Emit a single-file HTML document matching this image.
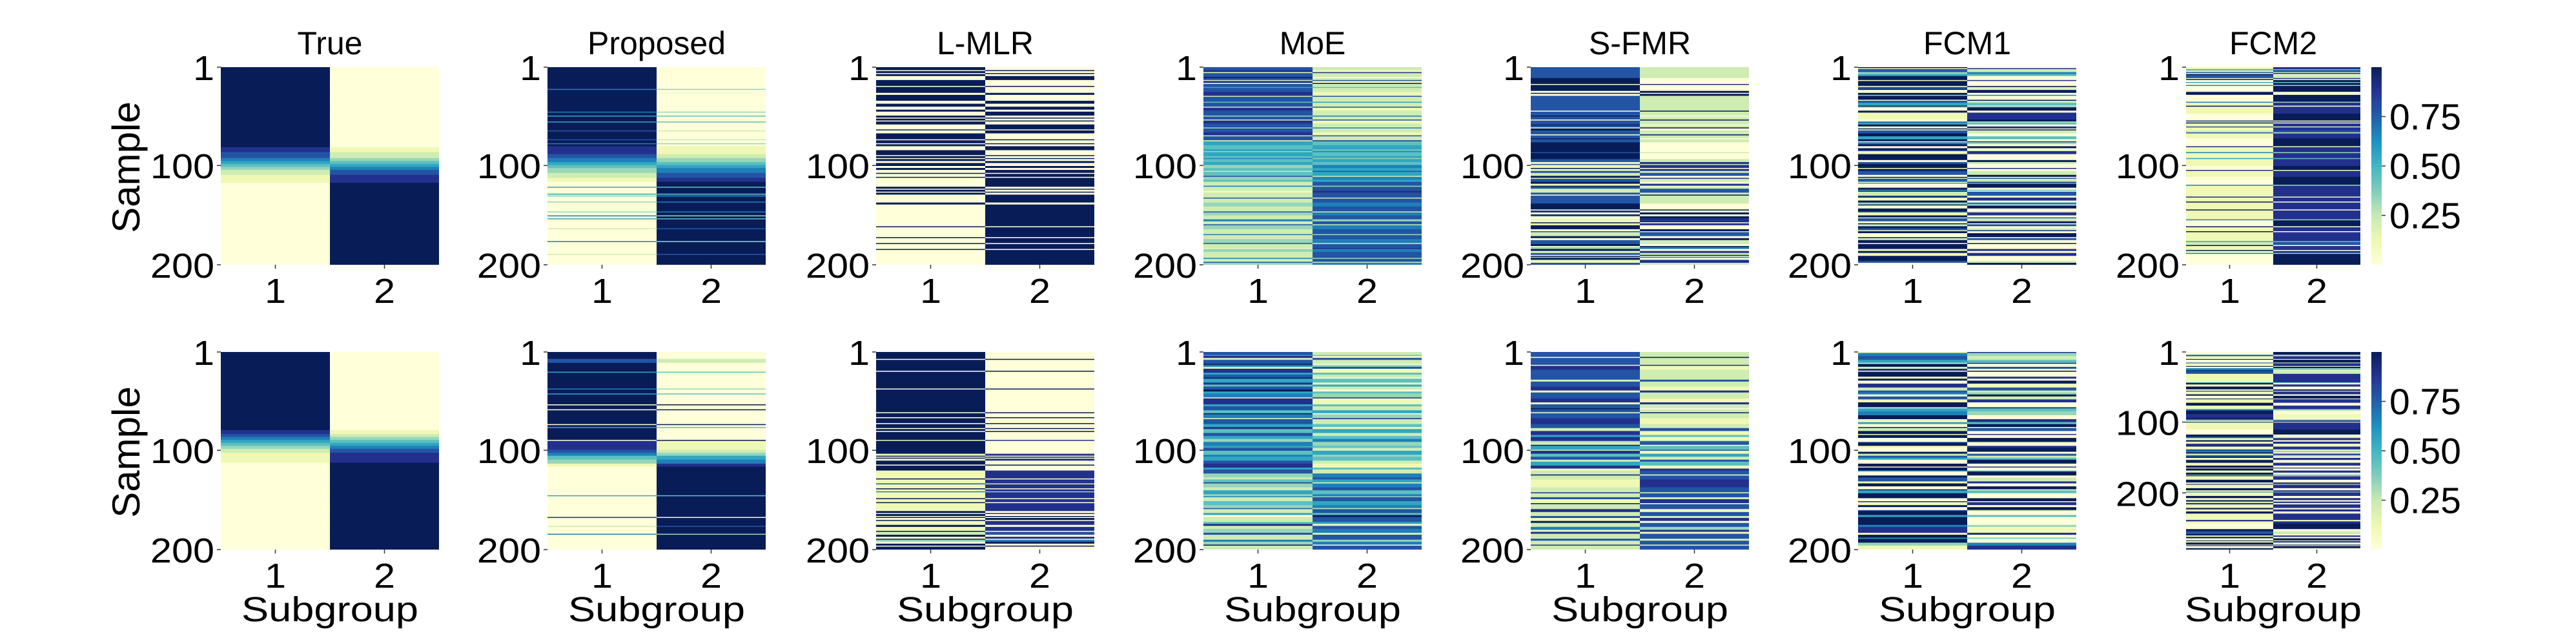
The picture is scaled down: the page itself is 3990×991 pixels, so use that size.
<!DOCTYPE html>
<html>
<head>
<meta charset="utf-8">
<style>
  html,body{margin:0;padding:0;background:#fff;}
  svg{display:block;}
  text{font-family:"Liberation Sans","DejaVu Sans",sans-serif;fill:#000;}
</style>
</head>
<body>
<svg id="fig" width="3990" height="991" viewBox="0 0 3990 991" xmlns="http://www.w3.org/2000/svg">
  <defs>
    <linearGradient id="cbgrad" x1="0" y1="1" x2="0" y2="0">
      <stop offset="0" stop-color="#ffffd9"/>
      <stop offset="0.125" stop-color="#edf8b1"/>
      <stop offset="0.25" stop-color="#c7e9b4"/>
      <stop offset="0.375" stop-color="#7fcdbb"/>
      <stop offset="0.5" stop-color="#41b6c4"/>
      <stop offset="0.625" stop-color="#1d91c0"/>
      <stop offset="0.75" stop-color="#225ea8"/>
      <stop offset="0.875" stop-color="#253494"/>
      <stop offset="1" stop-color="#081d58"/>
    </linearGradient>
  </defs>
</svg>
<script>
// ---- data: run-length encoded membership probability of subgroup 1 (digit/9), per panel ----
const panelTitles = ['True','Proposed','L-MLR','MoE','S-FMR','FCM1','FCM2'];
const subgroupLabels = ['1','2'];
const yTickLabels = ['1','100','200'];
const yTickIndex = [0, 99, 199];
const cbTickValues = [0.25, 0.5, 0.75];
const cbTickLabels = ['0.25','0.50','0.75'];
const rowCountsTop = [200,200,200,200,200,200,200];
const rowCountsBot = [200,200,200,200,200,200,280];

const trueTop = [[9,81],[8,5],[7,6],[6,3],[5,3],[4,3],[3,3],[2,5],[1,8],[0,83]];
const trueBot = [[9,79],[8,4],[7,3],[6,3],[5,3],[4,3],[3,3],[2,4],[1,10],[0,88]];
const propTop = [[9,22],[6,1],[9,21],[6,1],[9,3],[5,1],[9,5],[5,1],[9,8],[7,1],[9,8],[7,1],[9,3],[6,1],[9,2],[8,8],[7,4],[6,4],[5,3],[4,2],[3,5],[2,5],[1,4],[0,5],[5,1],[0,6],[5,1],[1,1],[3,1],[0,5],[3,1],[0,9],[3,1],[0,3],[6,1],[0,2],[5,1],[0,9],[2,1],[0,11],[6,1],[0,12],[2,1],[0,10]];
const propBot = [[9,7],[7,4],[9,10],[5,1],[9,16],[6,1],[9,4],[5,1],[9,10],[0,1],[9,4],[0,1],[9,15],[0,1],[9,2],[5,1],[9,12],[0,1],[8,9],[7,4],[6,3],[4,4],[3,4],[1,3],[0,30],[5,1],[0,21],[8,1],[0,8],[2,1],[0,8],[6,1],[0,15]];
const lmlrTop = [[9,3],[0,1],[9,2],[0,1],[9,2],[0,4],[9,6],[0,1],[9,6],[0,2],[9,6],[0,3],[9,3],[0,3],[9,2],[0,4],[9,2],[0,1],[9,2],[0,1],[9,3],[0,5],[9,1],[0,3],[9,6],[0,1],[9,3],[0,1],[9,2],[0,4],[9,5],[0,1],[9,2],[0,1],[9,2],[0,2],[9,3],[0,2],[9,2],[0,3],[9,1],[0,3],[9,1],[0,9],[9,2],[0,1],[9,2],[0,1],[9,2],[0,8],[9,2],[0,22],[9,1],[0,10],[9,1],[0,5],[9,1],[0,5],[9,1],[0,15]];
const lmlrBot = [[9,7],[0,1],[9,10],[0,1],[9,16],[0,1],[9,22],[0,1],[9,3],[0,1],[9,5],[0,1],[9,4],[0,1],[9,2],[0,1],[9,7],[1,1],[9,12],[1,2],[9,1],[0,1],[9,1],[1,2],[9,4],[0,1],[9,4],[1,8],[9,1],[1,4],[7,1],[1,3],[9,1],[1,2],[6,1],[1,6],[9,1],[1,3],[9,1],[1,7],[9,2],[1,1],[9,2],[0,1],[9,1],[0,2],[9,1],[1,3],[9,2],[1,4],[9,1],[2,3],[9,2],[1,2],[9,1],[3,1],[0,2],[9,2],[0,1],[9,3]];
const moeTop = [[7,3],[8,2],[1,1],[7,3],[9,1],[7,2],[2,1],[8,2],[0,1],[7,3],[5,1],[7,4],[8,3],[2,1],[7,5],[4,1],[7,4],[2,1],[8,3],[7,4],[3,1],[7,3],[2,1],[8,3],[7,4],[3,1],[7,3],[8,3],[2,1],[7,4],[1,1],[5,4],[4,3],[5,2],[3,1],[5,4],[4,2],[6,1],[4,3],[5,3],[3,2],[4,3],[2,1],[4,4],[7,1],[3,3],[4,2],[2,3],[6,1],[2,4],[1,2],[2,5],[7,1],[2,3],[3,4],[2,5],[7,1],[3,3],[2,4],[6,1],[2,3],[7,1],[3,4],[2,5],[6,1],[2,3],[3,4],[7,1],[2,4],[1,1],[3,3],[2,5],[6,1],[2,3],[7,1],[3,2]];
const moeBot = [[7,2],[5,1],[8,2],[2,1],[7,3],[9,1],[6,2],[2,1],[8,3],[5,2],[7,2],[9,1],[5,3],[8,2],[4,1],[7,3],[9,1],[5,2],[6,3],[1,1],[8,4],[5,2],[7,3],[4,2],[9,1],[6,3],[1,1],[7,4],[5,2],[8,2],[4,3],[7,2],[5,3],[3,2],[6,3],[5,2],[7,2],[4,3],[6,2],[5,3],[7,2],[8,3],[5,2],[7,3],[3,3],[2,2],[4,2],[8,1],[3,3],[2,2],[5,3],[3,2],[6,1],[2,3],[4,3],[3,2],[7,1],[2,3],[5,2],[0,1],[2,4],[4,2],[8,1],[2,3],[3,3],[7,1],[2,4],[6,2],[3,2],[9,1],[2,3]];
const sfmrTop = [[7,10],[9,5],[1,1],[9,5],[0,2],[9,1],[0,2],[7,13],[0,1],[7,3],[9,1],[7,3],[0,1],[7,3],[9,1],[7,2],[0,1],[9,2],[7,3],[0,1],[7,3],[9,1],[7,2],[9,9],[7,1],[9,5],[7,3],[1,2],[7,1],[1,2],[9,1],[1,2],[7,2],[2,2],[9,2],[1,1],[7,3],[9,1],[1,2],[9,1],[7,2],[2,3],[7,2],[0,1],[7,7],[9,5],[0,1],[7,1],[9,1],[0,2],[9,1],[7,1],[0,1],[1,4],[9,1],[1,2],[9,3],[0,2],[7,1],[2,3],[9,2],[0,2],[7,3],[9,2],[0,1],[3,2],[9,2],[1,1],[7,2],[0,1],[9,1],[3,1],[9,2],[1,2],[7,2]];
const sfmrBot = [[7,4],[0,1],[7,5],[1,1],[8,3],[7,8],[2,2],[7,4],[8,3],[1,1],[7,5],[8,3],[1,2],[7,3],[9,1],[7,2],[0,1],[7,4],[8,5],[7,3],[2,2],[8,3],[5,2],[8,3],[3,1],[2,2],[9,1],[5,3],[2,1],[8,2],[4,3],[7,2],[2,2],[5,3],[8,2],[1,2],[2,3],[9,1],[2,3],[1,6],[2,4],[8,1],[2,3],[7,2],[1,3],[9,1],[2,4],[8,2],[2,3],[7,2],[1,2],[9,2],[2,3],[6,2],[1,2],[8,1],[2,4],[7,2],[2,3],[8,1],[2,3]];
const fcm1Top = [[9,1],[1,1],[7,2],[3,2],[5,2],[9,3],[1,1],[9,4],[0,1],[7,2],[9,1],[0,2],[9,2],[3,1],[9,3],[0,1],[7,2],[5,2],[9,1],[3,1],[0,3],[9,1],[1,6],[0,2],[7,1],[5,2],[9,1],[1,2],[9,1],[0,1],[7,2],[9,3],[5,2],[9,2],[1,1],[6,2],[9,1],[0,2],[9,2],[7,1],[1,2],[9,5],[0,2],[7,2],[9,3],[1,1],[9,2],[7,3],[0,2],[9,1],[2,1],[7,2],[1,1],[5,1],[0,3],[9,2],[5,1],[9,1],[2,3],[7,1],[9,1],[1,2],[9,2],[3,2],[9,1],[0,2],[9,3],[7,1],[1,2],[9,2],[2,1],[7,2],[0,2],[9,1],[2,2],[9,1],[7,2],[1,1],[9,2],[0,3],[9,1],[2,2],[9,2],[0,1],[9,4],[1,2],[9,2],[1,2],[9,5],[7,1],[0,2]];
const fcm1Bot = [[1,1],[6,2],[7,3],[5,2],[1,1],[9,2],[2,2],[8,1],[0,1],[9,4],[1,1],[9,2],[0,2],[8,3],[2,2],[7,2],[6,1],[0,2],[7,2],[1,2],[9,4],[0,1],[5,2],[6,3],[9,3],[1,2],[5,2],[0,2],[9,1],[2,2],[9,2],[1,1],[9,2],[0,3],[7,1],[9,2],[1,2],[0,3],[9,1],[2,2],[7,1],[5,2],[0,3],[9,2],[1,1],[9,2],[5,1],[0,3],[9,1],[7,3],[1,2],[9,2],[0,2],[9,1],[5,2],[9,4],[0,2],[8,1],[1,2],[9,2],[0,2],[7,1],[9,3],[5,1],[9,6],[6,2],[8,4],[1,2],[9,2],[5,1],[9,3],[3,2],[1,3]];
const fcm2Top = [[1,2],[5,1],[2,2],[7,1],[1,1],[9,1],[7,2],[1,1],[9,1],[0,2],[5,1],[0,2],[6,1],[0,6],[9,3],[0,1],[0,5],[6,1],[1,3],[9,1],[1,7],[0,6],[8,1],[1,1],[9,1],[1,3],[7,1],[1,3],[2,2],[7,1],[1,4],[0,8],[8,1],[1,5],[6,1],[1,4],[5,1],[1,7],[0,4],[8,1],[1,5],[0,8],[6,1],[1,10],[8,1],[1,4],[9,1],[1,7],[9,1],[1,8],[6,1],[0,6],[9,1],[1,4],[9,1],[1,8],[5,1],[2,3],[9,1],[1,4],[9,1],[1,2],[6,1],[0,10]];
const fcm2Bot = [[0,3],[7,2],[1,3],[9,1],[0,3],[7,1],[1,3],[9,1],[0,2],[6,2],[9,1],[7,3],[1,10],[5,1],[9,2],[1,2],[9,3],[0,2],[9,1],[1,3],[9,2],[0,3],[9,1],[1,4],[9,3],[1,4],[6,2],[9,4],[8,4],[9,2],[6,1],[1,2],[9,1],[1,8],[0,6],[9,2],[7,2],[1,2],[9,2],[1,2],[8,3],[9,1],[1,3],[7,2],[5,1],[9,2],[1,1],[6,2],[9,2],[1,2],[9,3],[1,4],[9,2],[0,1],[9,2],[1,3],[9,2],[3,1],[9,1],[1,4],[9,3],[0,2],[9,1],[1,4],[9,2],[1,2],[6,1],[1,4],[9,2],[1,3],[9,1],[1,2],[8,2],[1,4],[9,1],[1,3],[9,2],[1,8],[8,1],[1,3],[0,6],[9,3],[7,3],[9,2],[1,1],[9,2],[0,2],[9,1],[1,2],[9,2],[0,1],[9,1],[0,2],[9,2]];

const topData = [trueTop, propTop, lmlrTop, moeTop, sfmrTop, fcm1Top, fcm2Top];
const botData = [trueBot, propBot, lmlrBot, moeBot, sfmrBot, fcm1Bot, fcm2Bot];

// ---- layout ----
const NS = 'http://www.w3.org/2000/svg';
const svg = document.getElementById('fig');
const panelLeft = [342, 848, 1357, 1864, 2371, 2878, 3386];
const panelWidth = [338, 338, 338, 338, 338, 338, 270];
const rowTop = [104, 545];
const rowH = 306;
const cbX = 3673, cbW = 16;

const stops = ['#ffffd9','#edf8b1','#c7e9b4','#7fcdbb','#41b6c4','#1d91c0','#225ea8','#253494','#081d58'];
function hex(c){return [parseInt(c.slice(1,3),16),parseInt(c.slice(3,5),16),parseInt(c.slice(5,7),16)];}
const stopRGB = stops.map(hex);
function cmap(v){
  v = Math.max(0, Math.min(1, v));
  const p = v * (stops.length - 1);
  const i = Math.min(stops.length - 2, Math.floor(p));
  const t = p - i;
  const a = stopRGB[i], b = stopRGB[i+1];
  return 'rgb(' + a.map((x,k)=>Math.round(x + (b[k]-x)*t)).join(',') + ')';
}
// expand run-length data and map it proportionally onto N sample rows
function expand(rle, n){
  const flat = [];
  rle.forEach(function(r){ for(let k=0;k<r[1];k++) flat.push(r[0]/9); });
  const out = [];
  for (let i = 0; i < n; i++){
    const j = Math.min(flat.length - 1, Math.floor((i + 0.5) * flat.length / n));
    out.push(flat[j]);
  }
  return out;
}
function mk(tag, attrs){
  const el = document.createElementNS(NS, tag);
  for (const k in attrs) el.setAttribute(k, attrs[k]);
  return el;
}
function txt(content, x, y, size, anchor, sx){
  const t = mk('text', {x:0, y:0, 'font-size':size, 'text-anchor':anchor,
    transform:'translate('+x+','+y+') scale('+(sx||1)+',1)'});
  t.textContent = content;
  return t;
}

for (let r = 0; r < 2; r++){
  const data = r === 0 ? topData : botData;
  const counts = r === 0 ? rowCountsTop : rowCountsBot;
  for (let p = 0; p < 7; p++){
    const g = mk('g', {});
    
    
    svg.appendChild(g);
    const left = panelLeft[p], w = panelWidth[p], top = rowTop[r], N = counts[p];
    const col1 = expand(data[p], N);
    const cellH = rowH / N;
    const colW = w / 2;
    for (let i = 0; i < N; i++){
      const vals = [col1[i], 1 - col1[i]];
      for (let c = 0; c < 2; c++){
        const rect = mk('rect', {x: left + c*colW, y: top + i*cellH, width: colW + (c===0?0.5:0), height: cellH + (i < N-1 ? 0.6 : 0), fill: cmap(vals[c])});
        
        
        g.appendChild(rect);
      }
    }
    // y ticks
    for (let k = 0; k < yTickLabels.length; k++){
      const ty = top + yTickIndex[k] * rowH / (N - 1);
      const tk = mk('line', {x1:left-6, x2:left, y1:ty, y2:ty, stroke:'#333', 'stroke-width':1.5});
      
      
      g.appendChild(tk);
      const lb = txt(yTickLabels[k], left - 10, ty + 20, 54, 'end', 1.1);
      
      
      g.appendChild(lb);
    }
    // x ticks
    for (let c = 0; c < 2; c++){
      const tx = left + colW*(c + 0.5);
      const tk = mk('line', {x1:tx, x2:tx, y1:top+rowH, y2:top+rowH+6, stroke:'#333', 'stroke-width':1.5});
      
      
      g.appendChild(tk);
      const lb = txt(subgroupLabels[c], tx, top + rowH + 59, 54, 'middle', 1.1);
      
      
      g.appendChild(lb);
    }
    if (r === 0){
      const tt = txt(panelTitles[p], left + w/2, 84, 50, 'middle', 1);
      
      
      svg.appendChild(tt);
    } else {
      const xl = txt('Subgroup', left + w/2, 962, 54, 'middle', 1.17);
      
      
      svg.appendChild(xl);
    }
    if (p === 0){
      const yl = mk('text', {x:0, y:0, 'font-size':60, 'text-anchor':'middle',
        transform:'translate(216,' + (top + 155) + ') rotate(-90)'});
      yl.textContent = 'Sample';
      
      
      svg.appendChild(yl);
    }
  }
  // colorbar
  const cb = mk('g', {});
  
  
  svg.appendChild(cb);
  const bar = mk('rect', {x:cbX, y:rowTop[r], width:cbW, height:rowH, fill:'url(#cbgrad)'});
  
  
  cb.appendChild(bar);
  for (let k = 0; k < cbTickValues.length; k++){
    const ty = rowTop[r] + rowH * (1 - cbTickValues[k]);
    const tk = mk('line', {x1:cbX+cbW, x2:cbX+cbW+6, y1:ty, y2:ty, stroke:'#333', 'stroke-width':1.5});
    
    
    cb.appendChild(tk);
    const lb = txt(cbTickLabels[k], cbX + cbW + 12, ty + 20, 57, 'start', 1);
    
    
    cb.appendChild(lb);
  }
}
</script>
</body>
</html>
